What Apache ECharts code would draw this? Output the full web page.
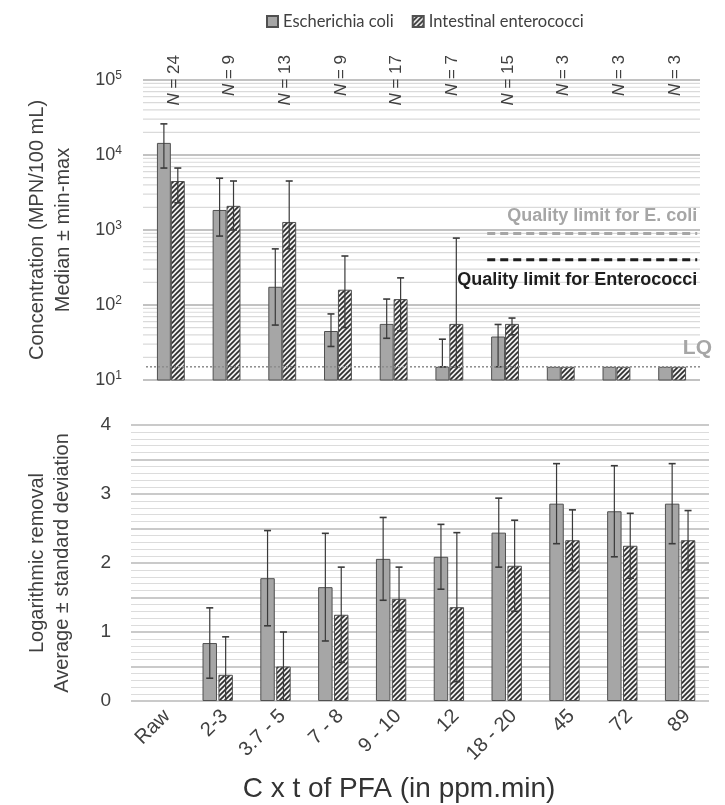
<!DOCTYPE html>
<html>
<head>
<meta charset="utf-8">
<script src="https://cdn.jsdelivr.net/npm/echarts@6/dist/echarts.min.js"></script>
<style>
  html, body { margin: 0; padding: 0; background: #ffffff; }
  #chart { width: 725px; height: 805px; }
</style>
</head>
<body>
<div id="chart"></div>
<script>
// Treatment classes (C x t of performic acid, ppm.min)
const categories = ['Raw', '2-3', '3.7 - 5', '7 - 8', '9 - 10', '12', '18 - 20', '45', '72', '89'];
const sampleCounts = [24, 9, 13, 9, 17, 7, 15, 3, 3, 3];

// Concentrations (MPN/100 mL): median, min, max
const ecoliMedian = [14500, 1850, 175, 45, 56, 15, 38, 15, 15, 15];
const ecoliMin    = [6700, 830, 54, 28, 36, 15, 15, 15, 15, 15];
const ecoliMax    = [26000, 4900, 560, 76, 120, 35, 55, 15, 15, 15];
const enteroMedian = [4500, 2100, 1280, 160, 120, 56, 56, 15, 15, 15];
const enteroMin    = [2300, 1000, 560, 50, 45, 15, 40, 15, 15, 15];
const enteroMax    = [6700, 4500, 4500, 450, 230, 780, 67, 15, 15, 15];

// Logarithmic removal: average and standard deviation
const ecoliRemoval     = [null, 0.84, 1.78, 1.65, 2.06, 2.09, 2.44, 2.86, 2.75, 2.86];
const ecoliRemovalSd   = [null, 0.51, 0.69, 0.78, 0.60, 0.47, 0.50, 0.58, 0.66, 0.58];
const enteroRemoval    = [null, 0.38, 0.50, 1.25, 1.48, 1.36, 1.96, 2.33, 2.25, 2.33];
const enteroRemovalSd  = [null, 0.55, 0.50, 0.69, 0.46, 1.08, 0.66, 0.44, 0.47, 0.43];

// Reference levels (MPN/100 mL)
const limitNames  = ['Quality limit for E. coli', 'Quality limit for Enterococci'];
const limitValues = [900, 400];
const limitSpan   = [5.68, 9.45];   // horizontal extent, in category units
const quantLimit  = 15;             // limit of quantification (LQ)

// Minor log gridlines: 2..9 x each decade
const minorLogLines = [];
[10, 100, 1000, 10000].forEach(d => { for (let k = 2; k <= 9; k++) minorLogLines.push(k * d); });

const SERIES_NAMES = ['Escherichia coli', 'Intestinal enterococci'];
const TEXT = '#404040';
const FONT = "'Liberation Sans', Arial, sans-serif";
const LEGEND_FONT = "Lato, 'Liberation Sans', sans-serif";
const GRAY_FILL = '#a6a6a6';
const BAR_BORDER = '#505050';
const WHISKER = '#3a3a3a';

function makeHatch() {
  const s = 5;
  const c = document.createElement('canvas');
  c.width = s; c.height = s;
  const g = c.getContext('2d');
  g.fillStyle = '#f0f0f0';
  g.fillRect(0, 0, s, s);
  g.strokeStyle = '#2e2e2e';
  g.lineWidth = 1.7;
  g.beginPath();
  g.moveTo(-1, s + 1); g.lineTo(s + 1, -1);
  g.moveTo(-1, 1); g.lineTo(1, -1);
  g.moveTo(s - 1, s + 1); g.lineTo(s + 1, s - 1);
  g.stroke();
  return c;
}
const hatch = { image: makeHatch(), repeat: 'repeat' };

// Whisker renderer: data item = [categoryIndex, low, high]; shift = offset in band fractions
function whiskerRenderer(shift) {
  return function (params, api) {
    const i = api.value(0);
    const lo = api.value(1), hi = api.value(2);
    if (lo == null || hi == null || isNaN(lo) || isNaN(hi) || lo === hi) return null;
    const band = api.size([1, 0])[0];
    const p1 = api.coord([i, lo]);
    const p2 = api.coord([i, hi]);
    const x = p1[0] + shift * band;
    const cap = 3.5;
    return {
      type: 'group',
      children: [
        { type: 'line', shape: { x1: x, y1: p1[1], x2: x, y2: p2[1] }, style: { stroke: WHISKER, lineWidth: 1.2 } },
        { type: 'line', shape: { x1: x - cap, y1: p2[1], x2: x + cap, y2: p2[1] }, style: { stroke: WHISKER, lineWidth: 1.6 } },
        { type: 'line', shape: { x1: x - cap, y1: p1[1], x2: x + cap, y2: p1[1] }, style: { stroke: WHISKER, lineWidth: 1.6 } }
      ]
    };
  };
}

function whiskerSeries(xi, yi, data, shift) {
  return {
    type: 'custom', xAxisIndex: xi, yAxisIndex: yi, z: 4, silent: true, clip: true,
    renderItem: whiskerRenderer(shift),
    data: data,
    encode: { x: 0, y: [1, 2] }
  };
}

const topEcoliWhiskers  = categories.map((c, i) => [i, ecoliMin[i], ecoliMax[i]]);
const topEnteroWhiskers = categories.map((c, i) => [i, enteroMin[i], enteroMax[i]]);
const botEcoliWhiskers  = categories.map((c, i) => ecoliRemoval[i] == null ? [i, null, null]
  : [i, +(ecoliRemoval[i] - ecoliRemovalSd[i]).toFixed(3), +(ecoliRemoval[i] + ecoliRemovalSd[i]).toFixed(3)]);
const botEnteroWhiskers = categories.map((c, i) => enteroRemoval[i] == null ? [i, null, null]
  : [i, +(enteroRemoval[i] - enteroRemovalSd[i]).toFixed(3), +(enteroRemoval[i] + enteroRemovalSd[i]).toFixed(3)]);

const chart = echarts.init(document.getElementById('chart'));

const option = {
  animation: false,
  backgroundColor: '#ffffff',
  textStyle: { fontFamily: FONT, color: TEXT },
  title: {
    text: 'C x t of PFA (in ppm.min)',
    left: 394, top: 770, textAlign: 'center',
    textStyle: { fontFamily: FONT, fontSize: 28, fontWeight: 'normal', color: '#333333' }
  },
  legend: {
    data: SERIES_NAMES,
    left: 261, top: 8,
    itemWidth: 11, itemHeight: 11, itemGap: 18,
    icon: 'rect',
    textStyle: { fontFamily: LEGEND_FONT, fontSize: 16.5, color: TEXT }
  },
  grid: [
    { left: 143, top: 80, width: 557, height: 300 },
    { left: 131, top: 425, width: 578, height: 276 }
  ],
  xAxis: [
    {
      type: 'category', gridIndex: 0, data: categories,
      axisLine: { show: false }, axisTick: { show: false }, axisLabel: { show: false },
      splitLine: { show: false }
    },
    {
      type: 'category', gridIndex: 1, data: categories,
      axisLine: { show: false }, axisTick: { show: false },
      axisLabel: {
        interval: 0, rotate: 45, margin: 5, verticalAlign: 'top',
        fontSize: 20, color: TEXT, fontFamily: FONT
      },
      splitLine: { show: false }
    }
  ],
  yAxis: [
    {
      type: 'log', logBase: 10, gridIndex: 0, min: 10, max: 100000,
      axisLine: { show: false }, axisTick: { show: false },
      splitLine: { show: true, lineStyle: { color: '#c2c2c2', width: 2 } },
      axisLabel: {
        margin: 21, fontSize: 18, color: TEXT, fontFamily: FONT,
        formatter: v => '10{sup|' + Math.round(Math.log10(v)) + '}',
        rich: { sup: { fontSize: 12, color: TEXT, fontFamily: FONT, padding: [0, 0, 9, 0] } }
      },
      name: 'Concentration (MPN/100 mL)\nMedian \u00b1 min-max',
      nameLocation: 'middle', nameGap: 67, nameRotate: 90,
      nameTextStyle: { fontSize: 20, color: TEXT, fontFamily: FONT, lineHeight: 26 }
    },
    {
      type: 'value', gridIndex: 1, min: 0, max: 4, interval: 0.5,
      axisLine: { show: false }, axisTick: { show: false },
      splitLine: { show: true, lineStyle: { color: '#b8b8b8', width: 1.5 } },
      minorTick: { show: false, splitNumber: 5 },
      minorSplitLine: { show: true, lineStyle: { color: '#dcdcdc', width: 1 } },
      axisLabel: {
        margin: 20, fontSize: 19, color: TEXT, fontFamily: FONT,
        formatter: v => (Math.abs(v - Math.round(v)) < 1e-9 ? String(Math.round(v)) : '')
      },
      name: 'Logarithmic removal\nAverage \u00b1 standard deviation',
      nameLocation: 'middle', nameGap: 56, nameRotate: 90,
      nameTextStyle: { fontSize: 20, color: TEXT, fontFamily: FONT, lineHeight: 25 }
    }
  ],
  series: [
    // minor log gridlines beneath the bars
    {
      type: 'custom', xAxisIndex: 0, yAxisIndex: 0, z: 1, silent: true,
      data: minorLogLines.map(v => [0, v]),
      encode: { x: 0, y: 1 },
      renderItem: (params, api) => {
        const cs = params.coordSys;
        const y = api.coord([0, api.value(1)])[1];
        return { type: 'line', shape: { x1: cs.x, y1: y, x2: cs.x + cs.width, y2: y },
          style: { stroke: '#dadada', lineWidth: 1.2 } };
      }
    },
    // concentration bars
    {
      name: SERIES_NAMES[0], type: 'bar', xAxisIndex: 0, yAxisIndex: 0,
      data: ecoliMedian, barWidth: '25%', barGap: '0%', clip: true, z: 2,
      itemStyle: { color: GRAY_FILL, borderColor: BAR_BORDER, borderWidth: 1 }
    },
    {
      name: SERIES_NAMES[1], type: 'bar', xAxisIndex: 0, yAxisIndex: 0,
      data: enteroMedian, barWidth: '25%', barGap: '0%', clip: true, z: 2,
      itemStyle: { color: hatch, borderColor: BAR_BORDER, borderWidth: 1 }
    },
    whiskerSeries(0, 0, topEcoliWhiskers, -0.125),
    whiskerSeries(0, 0, topEnteroWhiskers, 0.125),
    // sample sizes above each class
    {
      type: 'custom', xAxisIndex: 0, yAxisIndex: 0, z: 5, silent: true,
      data: sampleCounts.map((n, i) => [i, n]),
      encode: { x: 0 },
      renderItem: (params, api) => {
        const cs = params.coordSys;
        const x = api.coord([api.value(0), 100000])[0] + 3;
        return {
          type: 'text', x: x, y: cs.y - 25, rotation: Math.PI / 2,
          style: {
            text: '{n|N} = ' + api.value(1),
            align: 'right', verticalAlign: 'middle',
            fontSize: 17, fontFamily: FONT, fill: TEXT,
            rich: { n: { fontStyle: 'italic', fontSize: 17, fontFamily: FONT, fill: TEXT } }
          }
        };
      }
    },
    // quality limits
    {
      type: 'custom', xAxisIndex: 0, yAxisIndex: 0, z: 5, silent: true,
      data: limitValues.map((v, k) => [k, v]),
      encode: { y: 1 },
      renderItem: (params, api) => {
        const k = api.value(0);
        const v = api.value(1);
        const band = api.size([1, 0])[0];
        const x0 = api.coord([0, v])[0];
        const y = api.coord([0, v])[1];
        const xs = x0 + limitSpan[0] * band;
        const xe = x0 + limitSpan[1] * band;
        const color = k === 0 ? '#a6a6a6' : '#1e1e1e';
        return {
          type: 'group',
          children: [
            { type: 'line', shape: { x1: xs, y1: y, x2: xe, y2: y },
              style: { stroke: color, lineWidth: 3, lineDash: [8, 5] } },
            { type: 'text', x: xe, y: k === 0 ? y - 17 : y + 20,
              style: { text: limitNames[k], align: 'right', verticalAlign: 'middle',
                fontSize: 18, fontWeight: 'bold', fontFamily: FONT, fill: color } }
          ]
        };
      }
    },
    // limit of quantification
    {
      type: 'custom', xAxisIndex: 0, yAxisIndex: 0, z: 5, silent: true,
      data: [[0, quantLimit]],
      encode: { y: 1 },
      renderItem: (params, api) => {
        const cs = params.coordSys;
        const y = api.coord([0, api.value(1)])[1];
        return {
          type: 'group',
          children: [
            { type: 'line', shape: { x1: cs.x + 3, y1: y, x2: cs.x + cs.width, y2: y },
              style: { stroke: '#8c8c8c', lineWidth: 1.5, lineDash: [2, 2] } },
            { type: 'text', x: cs.x + cs.width + 12, y: y - 19,
              style: { text: 'LQ', align: 'right', verticalAlign: 'middle',
                fontSize: 21, fontWeight: 'bold', fontFamily: FONT, fill: '#a6a6a6' } }
          ]
        };
      }
    },
    // removal bars
    {
      name: SERIES_NAMES[0], type: 'bar', xAxisIndex: 1, yAxisIndex: 1,
      data: ecoliRemoval, barWidth: '25%', barGap: '10%', z: 2,
      itemStyle: { color: GRAY_FILL, borderColor: BAR_BORDER, borderWidth: 1 }
    },
    {
      name: SERIES_NAMES[1], type: 'bar', xAxisIndex: 1, yAxisIndex: 1,
      data: enteroRemoval, barWidth: '25%', barGap: '10%', z: 2,
      itemStyle: { color: hatch, borderColor: BAR_BORDER, borderWidth: 1 }
    },
    whiskerSeries(1, 1, botEcoliWhiskers, -0.1375),
    whiskerSeries(1, 1, botEnteroWhiskers, 0.1375)
  ]
};

chart.setOption(option);
</script>
</body>
</html>
